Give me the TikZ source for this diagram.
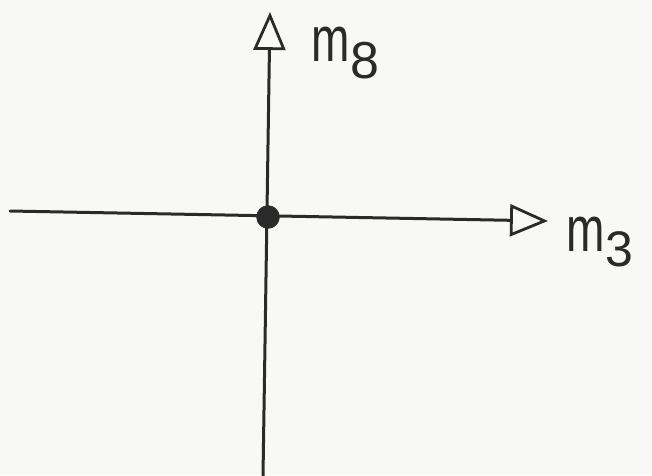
\documentclass[tikz,border=0pt]{standalone}
\usepackage{fontspec}
\setmainfont{Liberation Sans}
\usetikzlibrary{arrows.meta}
\definecolor{ink}{HTML}{2A2A2A}
\definecolor{paper}{HTML}{F8F8F6}
\tikzset{
  axis/.style={draw=ink, line width=3pt, line cap=round,
    -{Triangle[open, length=38pt, width=32pt, line width=2.8pt]}},
  lbl/.style={inner sep=0pt, outer sep=0pt, text=ink, anchor=base west},
  origindot/.style={circle, fill=ink, draw=ink, inner sep=0pt, minimum size=23pt}
}
\newcommand{\handm}{\scalebox{0.72}[1]{\fontsize{64}{64}\selectfont m}}
\begin{document}
\begin{tikzpicture}[x=1pt, y=-1pt]
  \fill[paper] (0,0) rectangle (652,475);
  \useasboundingbox (0,0) rectangle (652,475);
  \coordinate (xstart) at (10,211);
  \coordinate (xend) at (548,221);
  \coordinate (ystart) at (263,476);
  \coordinate (yend) at (270,12);
  \draw[axis] (xstart) -- (xend);
  \draw[axis] (ystart) -- (yend);
  \node[origindot] (o) at (268,217) {};
  \node[lbl] (m8) at (311,61) {\handm\kern1pt\raisebox{-17pt}{\fontsize{52}{52}\selectfont 8}};
  \node[lbl] (m3) at (566,251) {\handm\kern1pt\raisebox{-15pt}{\fontsize{50}{50}\selectfont 3}};
\end{tikzpicture}
\end{document}
